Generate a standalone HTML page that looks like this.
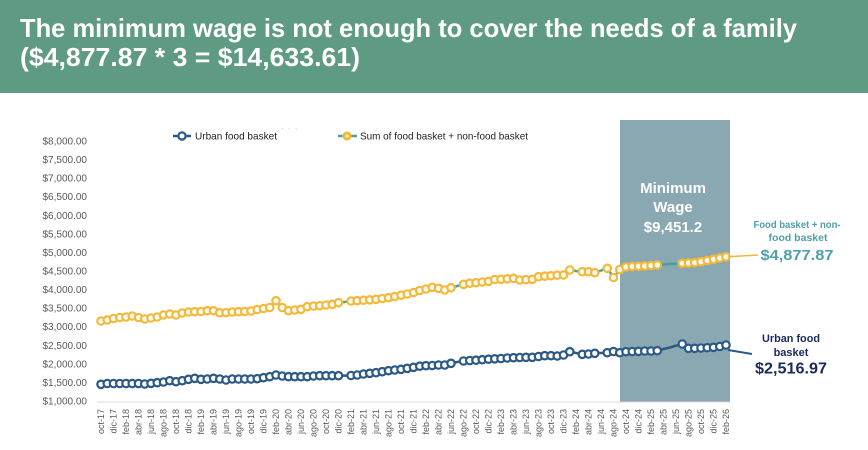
<!DOCTYPE html>
<html>
<head>
<meta charset="utf-8">
<style>
html,body{margin:0;padding:0;background:#fff;}
svg{display:block;}
</style>
</head>
<body>
<svg width="868" height="450" viewBox="0 0 868 450" xmlns="http://www.w3.org/2000/svg">
<defs>
<marker id="my" markerWidth="12" markerHeight="12" refX="6" refY="6" markerUnits="userSpaceOnUse"><circle cx="6" cy="6" r="3.7" fill="#fffdf5" stroke="#f4b93b" stroke-width="2.2"/></marker>
<marker id="mb" markerWidth="12" markerHeight="12" refX="6" refY="6" markerUnits="userSpaceOnUse"><circle cx="6" cy="6" r="3.7" fill="#ffffff" stroke="#2c5985" stroke-width="2.2"/></marker>
</defs>

<!-- header -->
<rect x="0" y="0" width="868" height="93" fill="#5f9a83"/>
<g font-family="'Liberation Sans', sans-serif" font-weight="bold" fill="#ffffff" font-size="26">
<text x="20" y="37" textLength="777" lengthAdjust="spacingAndGlyphs">The minimum wage is not enough to cover the needs of a family</text>
<text x="20" y="66" textLength="340" lengthAdjust="spacingAndGlyphs">($4,877.87 * 3 = $14,633.61)</text>
</g>

<!-- shaded minimum wage -->
<rect x="620" y="120" width="110" height="282" fill="#8aa8b2"/>
<g font-family="'Liberation Sans', sans-serif" font-weight="bold" fill="#ffffff" font-size="15" text-anchor="middle">
<text x="673" y="193">Minimum</text>
<text x="673" y="212">Wage</text>
<text x="673" y="232">$9,451.2</text>
</g>

<!-- y axis labels -->
<g font-family="'Liberation Sans', sans-serif" font-size="10" fill="#595959" text-anchor="end">
<text x="87" y="404.5">$1,000.00</text>
<text x="87" y="385.9">$1,500.00</text>
<text x="87" y="367.4">$2,000.00</text>
<text x="87" y="348.8">$2,500.00</text>
<text x="87" y="330.2">$3,000.00</text>
<text x="87" y="311.6">$3,500.00</text>
<text x="87" y="293.1">$4,000.00</text>
<text x="87" y="274.5">$4,500.00</text>
<text x="87" y="255.9">$5,000.00</text>
<text x="87" y="237.4">$5,500.00</text>
<text x="87" y="218.8">$6,000.00</text>
<text x="87" y="200.2">$6,500.00</text>
<text x="87" y="181.6">$7,000.00</text>
<text x="87" y="163.1">$7,500.00</text>
<text x="87" y="144.5">$8,000.00</text>
</g>

<!-- x axis line -->
<line x1="97" y1="402" x2="730" y2="402" stroke="#d9d9d9" stroke-width="1"/>

<!-- x labels -->
<g font-family="'Liberation Sans', sans-serif" font-size="9" fill="#595959" text-anchor="end">
<text transform="translate(104.2,409) rotate(-90)">oct-17</text>
<text transform="translate(116.7,409) rotate(-90)">dic-17</text>
<text transform="translate(129.2,409) rotate(-90)">feb-18</text>
<text transform="translate(141.7,409) rotate(-90)">abr-18</text>
<text transform="translate(154.2,409) rotate(-90)">jun-18</text>
<text transform="translate(166.7,409) rotate(-90)">ago-18</text>
<text transform="translate(179.2,409) rotate(-90)">oct-18</text>
<text transform="translate(191.7,409) rotate(-90)">dic-18</text>
<text transform="translate(204.2,409) rotate(-90)">feb-19</text>
<text transform="translate(216.7,409) rotate(-90)">abr-19</text>
<text transform="translate(229.2,409) rotate(-90)">jun-19</text>
<text transform="translate(241.7,409) rotate(-90)">ago-19</text>
<text transform="translate(254.2,409) rotate(-90)">oct-19</text>
<text transform="translate(266.7,409) rotate(-90)">dic-19</text>
<text transform="translate(279.2,409) rotate(-90)">feb-20</text>
<text transform="translate(291.7,409) rotate(-90)">abr-20</text>
<text transform="translate(304.2,409) rotate(-90)">jun-20</text>
<text transform="translate(316.7,409) rotate(-90)">ago-20</text>
<text transform="translate(329.2,409) rotate(-90)">oct-20</text>
<text transform="translate(341.7,409) rotate(-90)">dic-20</text>
<text transform="translate(354.2,409) rotate(-90)">feb-21</text>
<text transform="translate(366.7,409) rotate(-90)">abr-21</text>
<text transform="translate(379.2,409) rotate(-90)">jun-21</text>
<text transform="translate(391.7,409) rotate(-90)">ago-21</text>
<text transform="translate(404.2,409) rotate(-90)">oct-21</text>
<text transform="translate(416.7,409) rotate(-90)">dic-21</text>
<text transform="translate(429.2,409) rotate(-90)">feb-22</text>
<text transform="translate(441.7,409) rotate(-90)">abr-22</text>
<text transform="translate(454.2,409) rotate(-90)">jun-22</text>
<text transform="translate(466.7,409) rotate(-90)">ago-22</text>
<text transform="translate(479.2,409) rotate(-90)">oct-22</text>
<text transform="translate(491.7,409) rotate(-90)">dic-22</text>
<text transform="translate(504.2,409) rotate(-90)">feb-23</text>
<text transform="translate(516.7,409) rotate(-90)">abr-23</text>
<text transform="translate(529.2,409) rotate(-90)">jun-23</text>
<text transform="translate(541.7,409) rotate(-90)">ago-23</text>
<text transform="translate(554.2,409) rotate(-90)">oct-23</text>
<text transform="translate(566.7,409) rotate(-90)">dic-23</text>
<text transform="translate(579.2,409) rotate(-90)">feb-24</text>
<text transform="translate(591.7,409) rotate(-90)">abr-24</text>
<text transform="translate(604.2,409) rotate(-90)">jun-24</text>
<text transform="translate(616.7,409) rotate(-90)">ago-24</text>
<text transform="translate(629.2,409) rotate(-90)">oct-24</text>
<text transform="translate(641.7,409) rotate(-90)">dic-24</text>
<text transform="translate(654.2,409) rotate(-90)">feb-25</text>
<text transform="translate(666.7,409) rotate(-90)">abr-25</text>
<text transform="translate(679.2,409) rotate(-90)">jun-25</text>
<text transform="translate(691.7,409) rotate(-90)">ago-25</text>
<text transform="translate(704.2,409) rotate(-90)">oct-25</text>
<text transform="translate(716.7,409) rotate(-90)">dic-25</text>
<text transform="translate(729.2,409) rotate(-90)">feb-26</text>
</g>

<!-- yellow series line -->
<polyline fill="none" stroke="#4a9fa0" stroke-width="2.5" stroke-linejoin="round" points="101,321 107.25,320 113.5,318.5 119.75,317.5 126,317 132.25,316 138.5,317.5 144.75,319 151,318 157.25,317 163.5,315 169.75,314 176,315 182.25,313 188.5,312 194.75,311.7 201,311.5 207.25,310.7 213.5,310.7 219.75,312.7 226,312.7 232.25,312 238.5,311.7 244.75,311.5 251,311 257.25,309.5 263.5,308.5 269.75,307.5 276,300.7 282.25,307.5 288.5,310.7 294.75,310 301,309.3 307.25,306.7 313.5,306 319.75,305.7 326,305 332.25,304.3 338.5,302.7 344.75,302 351,301 357.25,300.7 363.5,300.2 369.75,299.8 376,299.3 382.25,298.5 388.5,297.7 394.75,296.5 401,295.2 407.25,294 413.5,292.5 419.75,290.5 426,289 432.25,287.3 438.5,288.3 444.75,290 451,287.7 457.25,286 463.5,284.3 469.75,283.2 476,282.7 482.25,282 488.5,281.3 494.75,279.5 501,279.3 507.25,278.8 513.5,278.3 519.75,280 526,279.7 532.25,279.3 538.5,276.7 544.75,276.2 551,275.7 557.25,275.2 563.5,275 569.75,270 576,271 582.25,271.7 588.5,271.7 594.75,272.7 601,270.5 607.25,268.3 613.5,277.5 619.75,269.5 626,267 632.25,266.5 638.5,266.2 644.75,266 651,265.5 657.25,265 663.5,264.5 669.75,264 676,263.7 682.25,263.3 688.5,263 694.75,262.7 701,261.7 707.25,260.5 713.5,259.3 719.75,258 726,256.9"/>
<g fill="none" stroke="none" marker-start="url(#my)" marker-mid="url(#my)" marker-end="url(#my)">
<polyline points="101,321 107.25,320 113.5,318.5 119.75,317.5 126,317 132.25,316 138.5,317.5 144.75,319 151,318 157.25,317 163.5,315 169.75,314 176,315 182.25,313 188.5,312 194.75,311.7 201,311.5 207.25,310.7 213.5,310.7 219.75,312.7 226,312.7 232.25,312 238.5,311.7 244.75,311.5 251,311 257.25,309.5 263.5,308.5 269.75,307.5 276,300.7 282.25,307.5 288.5,310.7 294.75,310 301,309.3 307.25,306.7 313.5,306 319.75,305.7 326,305 332.25,304.3 338.5,302.7"/>
<polyline points="351,301 357.25,300.7 363.5,300.2 369.75,299.8 376,299.3 382.25,298.5 388.5,297.7 394.75,296.5 401,295.2 407.25,294 413.5,292.5 419.75,290.5 426,289 432.25,287.3 438.5,288.3 444.75,290 451,287.7"/>
<polyline points="463.5,284.3 469.75,283.2 476,282.7 482.25,282 488.5,281.3 494.75,279.5 501,279.3 507.25,278.8 513.5,278.3 519.75,280 526,279.7 532.25,279.3 538.5,276.7 544.75,276.2 551,275.7 557.25,275.2 563.5,275 569.75,270"/>
<polyline points="582.25,271.7 588.5,271.7 594.75,272.7"/>
<polyline points="607.25,268.3 613.5,277.5 619.75,269.5 626,267 632.25,266.5 638.5,266.2 644.75,266 651,265.5 657.25,265"/>
<polyline points="682.25,263.3 688.5,263 694.75,262.7 701,261.7 707.25,260.5 713.5,259.3 719.75,258 726,256.9"/>
</g>

<!-- blue series line -->
<polyline fill="none" stroke="#2c5985" stroke-width="2.5" stroke-linejoin="round" points="101,384.3 107.25,383.5 113.5,383.5 119.75,383.5 126,383.5 132.25,383.5 138.5,383.5 144.75,384 151,383.3 157.25,382.7 163.5,382 169.75,380.7 176,381.7 182.25,380.7 188.5,379.3 194.75,378.3 201,379.3 207.25,379 213.5,378.3 219.75,379 226,380 232.25,379 238.5,379 244.75,379 251,379 257.25,378.7 263.5,377.7 269.75,376.7 276,375 282.25,376 288.5,376.7 294.75,376.7 301,376.7 307.25,376.7 313.5,376 319.75,375.7 326,375.7 332.25,375.7 338.5,375.7 344.75,375.6 351,375.5 357.25,375 363.5,374 369.75,373.3 376,372.7 382.25,371.7 388.5,370.7 394.75,370 401,369.3 407.25,368.3 413.5,367.3 419.75,366.2 426,365.7 432.25,365.5 438.5,365 444.75,365 451,363.3 457.25,362 463.5,361 469.75,360.5 476,360.2 482.25,359.7 488.5,359.2 494.75,358.8 501,358.5 507.25,358 513.5,357.7 519.75,357.5 526,357.3 532.25,357.3 538.5,356.5 544.75,355.7 551,355.7 557.25,356 563.5,355 569.75,351.7 576,353 582.25,354.3 588.5,354 594.75,353.3 601,353 607.25,352.7 613.5,351.5 619.75,352.7 626,351.7 632.25,351.5 638.5,351.3 644.75,351 651,351 657.25,350.7 663.5,349 669.75,347.5 676,345.7 682.25,344 688.5,348.3 694.75,348.3 701,348 707.25,347.7 713.5,347.3 719.75,346.5 726,345"/>
<g fill="none" stroke="none" marker-start="url(#mb)" marker-mid="url(#mb)" marker-end="url(#mb)">
<polyline points="101,384.3 107.25,383.5 113.5,383.5 119.75,383.5 126,383.5 132.25,383.5 138.5,383.5 144.75,384 151,383.3 157.25,382.7 163.5,382 169.75,380.7 176,381.7 182.25,380.7 188.5,379.3 194.75,378.3 201,379.3 207.25,379 213.5,378.3 219.75,379 226,380 232.25,379 238.5,379 244.75,379 251,379 257.25,378.7 263.5,377.7 269.75,376.7 276,375 282.25,376 288.5,376.7 294.75,376.7 301,376.7 307.25,376.7 313.5,376 319.75,375.7 326,375.7 332.25,375.7 338.5,375.7"/>
<polyline points="351,375.5 357.25,375 363.5,374 369.75,373.3 376,372.7 382.25,371.7 388.5,370.7 394.75,370 401,369.3 407.25,368.3 413.5,367.3 419.75,366.2 426,365.7 432.25,365.5 438.5,365 444.75,365 451,363.3"/>
<polyline points="463.5,361 469.75,360.5 476,360.2 482.25,359.7 488.5,359.2 494.75,358.8 501,358.5 507.25,358 513.5,357.7 519.75,357.5 526,357.3 532.25,357.3 538.5,356.5 544.75,355.7 551,355.7 557.25,356 563.5,355 569.75,351.7"/>
<polyline points="582.25,354.3 588.5,354 594.75,353.3"/>
<polyline points="607.25,352.7 613.5,351.5 619.75,352.7 626,351.7 632.25,351.5 638.5,351.3 644.75,351 651,351 657.25,350.7"/>
<polyline points="682.25,344 688.5,348.3 694.75,348.3 701,348 707.25,347.7 713.5,347.3 719.75,346.5 726,345"/>
</g>

<!-- legend -->
<line x1="173" y1="136" x2="191" y2="136" stroke="#2c5985" stroke-width="2.5"/>
<circle cx="182" cy="136" r="3.6" fill="#fff" stroke="#2c5985" stroke-width="2.2"/>
<text x="195" y="139.5" font-family="'Liberation Sans', sans-serif" font-size="10.5" fill="#222" textLength="82" lengthAdjust="spacingAndGlyphs">Urban food basket</text>
<text x="281" y="131" font-family="'Liberation Sans', sans-serif" font-size="8" fill="#bbbbbb" letter-spacing="1">· · ·</text>
<line x1="338" y1="136" x2="357" y2="136" stroke="#4a9fa0" stroke-width="2.5"/>
<circle cx="347" cy="136" r="3.8" fill="#f4b93b" stroke="#f4b93b" stroke-width="1.5"/>
<circle cx="347" cy="136" r="1.4" fill="#fff4d0"/>
<text x="360" y="139.5" font-family="'Liberation Sans', sans-serif" font-size="10.5" fill="#222" textLength="168" lengthAdjust="spacingAndGlyphs">Sum of food basket + non-food basket</text>

<!-- annotations -->
<line x1="728" y1="256.7" x2="758" y2="255" stroke="#f0b83c" stroke-width="1.5"/>
<g font-family="'Liberation Sans', sans-serif" font-weight="bold" fill="#4f9fa8" text-anchor="middle">
<text x="797" y="228" font-size="10.5" textLength="87" lengthAdjust="spacingAndGlyphs">Food basket + non-</text>
<text x="798" y="241" font-size="10.5">food basket</text>
<text x="797" y="260" font-size="15" textLength="73" lengthAdjust="spacingAndGlyphs">$4,877.87</text>
</g>
<line x1="728" y1="350" x2="752" y2="354" stroke="#2c5985" stroke-width="2"/>
<g font-family="'Liberation Sans', sans-serif" font-weight="bold" fill="#1b2a5c" text-anchor="middle">
<text x="791" y="342" font-size="11" textLength="58" lengthAdjust="spacingAndGlyphs">Urban food</text>
<text x="791" y="356" font-size="11">basket</text>
<text x="791" y="373.5" font-size="15.5" textLength="72" lengthAdjust="spacingAndGlyphs">$2,516.97</text>
</g>
</svg>
</body>
</html>
